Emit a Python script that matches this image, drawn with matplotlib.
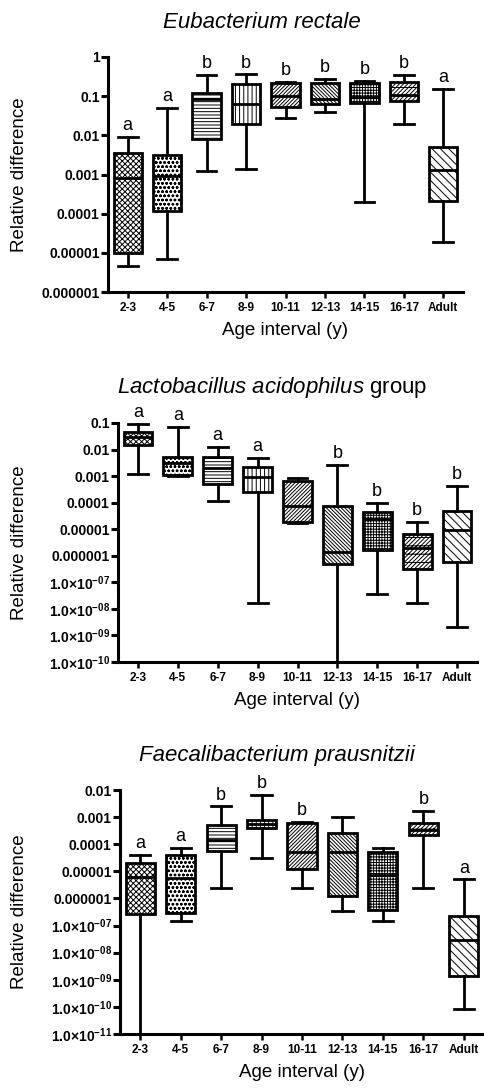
import matplotlib
matplotlib.use("Agg")
import matplotlib.pyplot as plt
from matplotlib.ticker import NullLocator

plt.rcParams["font.family"] = "Liberation Sans"
plt.rcParams["mathtext.fontset"] = "custom"
plt.rcParams["mathtext.rm"] = "Liberation Sans"
plt.rcParams["mathtext.it"] = "Liberation Sans:italic"
plt.rcParams["mathtext.bf"] = "Liberation Sans:bold"
plt.rcParams["hatch.linewidth"] = 0.7

AGES = ["2-3", "4-5", "6-7", "8-9", "10-11", "12-13", "14-15", "16-17", "Adult"]
HATCHES = ["xxxxxx", "oooo", "-----", "||||", "/////////", "\\\\\\\\\\\\\\\\\\",
           "++++++", "////////--", "\\\\\\\\"]

# Eubacterium rectale
ER_LOW = [4.6e-6, 7e-6, 0.0012, 0.00135, 0.027, 0.04, 0.0002, 0.02, 1.9e-5]
ER_Q1 = [1e-5, 0.00012, 0.0083, 0.02, 0.052, 0.063, 0.065, 0.075, 0.00021]
ER_MED = [0.0008, 0.00093, 0.083, 0.063, 0.1, 0.083, 0.095, 0.11, 0.0013]
ER_Q3 = [0.0035, 0.0032, 0.12, 0.2, 0.22, 0.22, 0.22, 0.23, 0.005]
ER_HIGH = [0.009, 0.05, 0.35, 0.36, 0.23, 0.27, 0.24, 0.35, 0.15]
ER_LETTERS = ["a", "a", "b", "b", "b", "b", "b", "b", "a"]

# Lactobacillus acidophilus group
LA_LOW = [0.0012, 0.001, 0.000118, 1.7e-8, 1.7e-5, 1e-11, 3.7e-8, 1.7e-8, 2e-9]
LA_Q1 = [0.015, 0.0011, 0.0005, 0.00025, 1.9e-5, 5e-7, 1.7e-6, 3.2e-7, 6e-7]
LA_MED = [0.03, 0.0032, 0.002, 0.00093, 7.6e-5, 1.4e-6, 2.5e-5, 2e-6, 9.5e-6]
LA_Q3 = [0.046, 0.0053, 0.0052, 0.0022, 0.00066, 7.5e-5, 4.5e-5, 6.8e-6, 5e-5]
LA_HIGH = [0.09, 0.07, 0.0126, 0.005, 0.00085, 0.0026, 0.0001, 1.85e-5, 0.00043]
LA_LETTERS = ["a", "a", "a", "a", "", "b", "b", "b", "b"]

# Faecalibacterium prausnitzii
FP_LOW = [1e-12, 1.5e-7, 2.5e-6, 3.2e-5, 2.5e-6, 3.4e-7, 1.5e-7, 2.5e-6, 8.3e-11]
FP_Q1 = [2.6e-7, 2.9e-7, 5.6e-5, 0.0004, 1.25e-5, 1.25e-6, 3.7e-7, 0.00022, 1.4e-9]
FP_MED = [6.3e-6, 5.7e-6, 0.00014, 0.00056, 5e-5, 5e-5, 7.3e-6, 0.00034, 3e-8]
FP_Q3 = [2e-5, 4e-5, 0.0005, 0.0008, 0.0006, 0.00025, 5e-5, 0.00063, 2.2e-7]
FP_HIGH = [4e-5, 7.2e-5, 0.0025, 0.0066, 0.00066, 0.001, 7.2e-5, 0.0017, 5e-6]
FP_LETTERS = ["a", "a", "b", "b", "b", "", "", "b", "a"]

FIG_W, FIG_H = 484, 1091
LW = 2.0


def decade_label(exp):
    if exp >= 0:
        return "1"
    if exp >= -6:
        return f"{10.0 ** exp:.{-exp}f}"
    return r"1.0×10$^{\mathbf{-%02d}}$" % -exp


def draw_panel(fig, box_px, exps, low, q1, med, q3, high, letters, title, title_xy):
    left, right, top, bottom = box_px
    ax = fig.add_axes([left / FIG_W, 1 - bottom / FIG_H,
                       (right - left) / FIG_W, (bottom - top) / FIG_H])
    stats = []
    for i in range(len(AGES)):
        stats.append(dict(med=med[i], q1=q1[i], q3=q3[i],
                          whislo=low[i], whishi=high[i], fliers=[]))
    positions = list(range(1, len(AGES) + 1))
    res = ax.bxp(stats, positions=positions, widths=0.72, capwidths=0.5,
                 patch_artist=True, showfliers=False,
                 boxprops=dict(facecolor="white", edgecolor="black", linewidth=LW),
                 medianprops=dict(color="black", linewidth=LW),
                 whiskerprops=dict(color="black", linewidth=LW),
                 capprops=dict(color="black", linewidth=LW))
    for patch, hatch in zip(res["boxes"], HATCHES):
        patch.set_hatch(hatch)

    ax.set_yscale("log")
    ax.set_ylim(10.0 ** exps[0], 10.0 ** exps[-1])
    ax.set_xlim(0.5, len(AGES) + 0.5)
    ax.set_yticks([10.0 ** e for e in exps], [decade_label(e) for e in exps],
                  fontsize=10, fontweight="bold")
    ax.yaxis.set_minor_locator(NullLocator())
    ax.set_xticks(positions, AGES, fontsize=8.5, fontweight="bold")

    for side in ["top", "right"]:
        ax.spines[side].set_visible(False)
    for side in ["left", "bottom"]:
        ax.spines[side].set_linewidth(2.2)
    ax.tick_params(axis="y", length=5, width=2.2, pad=1)
    ax.tick_params(axis="x", length=4, width=1.8, pad=3)

    for x, y, letter in zip(positions, high, letters):
        if letter:
            ax.annotate(letter, (x, y), xytext=(0, 2), textcoords="offset points",
                        ha="center", va="bottom", fontsize=13)

    ax.set_xlabel("Age interval (y)", fontsize=13.5, labelpad=6)
    fig.text(20 / FIG_W, 1 - (top + bottom) / 2 / FIG_H, "Relative difference",
             rotation=90, ha="center", va="center", fontsize=13.5)
    fig.text(title_xy[0] / FIG_W, 1 - title_xy[1] / FIG_H, title,
             ha="center", va="center", fontsize=16,
             style="italic" if "$" not in title else "normal")
    return ax


fig = plt.figure(figsize=(FIG_W / 100, FIG_H / 100), dpi=100)

draw_panel(fig, (108, 463, 57, 292), list(range(-6, 1)),
           ER_LOW, ER_Q1, ER_MED, ER_Q3, ER_HIGH, ER_LETTERS,
           "Eubacterium rectale", (262, 22))
draw_panel(fig, (118, 477, 423, 662), list(range(-10, 0)),
           LA_LOW, LA_Q1, LA_MED, LA_Q3, LA_HIGH, LA_LETTERS,
           r"$\mathit{Lactobacillus\ acidophilus}$ group", (272, 388))
draw_panel(fig, (120, 484, 790, 1034), list(range(-11, -1)),
           FP_LOW, FP_Q1, FP_MED, FP_Q3, FP_HIGH, FP_LETTERS,
           "Faecalibacterium prausnitzii", (277, 755))

fig.savefig("out.png", dpi=100)
